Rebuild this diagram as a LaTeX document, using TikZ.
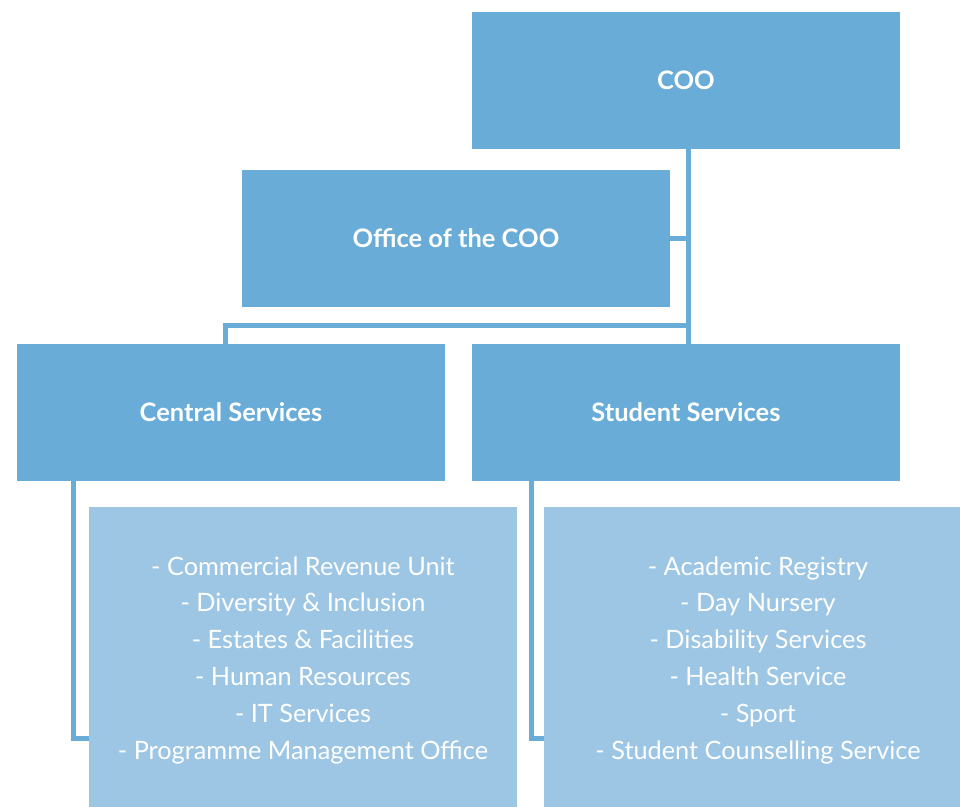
\documentclass[tikz,border=0pt]{standalone}
\usepackage{fontspec}
\setmainfont{Lato}
\usetikzlibrary{positioning, calc}
\definecolor{unitblue}{RGB}{104, 172, 215}
\definecolor{listblue}{RGB}{156, 198, 228}

\begin{document}
\begin{tikzpicture}[x=0.02cm, y=-0.02cm,
    unit/.style={fill=unitblue, text=white, anchor=north west,
                 inner sep=0pt, outer sep=0pt, text depth=0pt,
                 minimum width=8.56cm, minimum height=2.74cm,
                 font=\bfseries\fontsize{14.5}{20}\selectfont},
    sublist/.style={fill=listblue, text=white, anchor=north west,
                 inner sep=0pt, outer sep=0pt, align=center, text depth=0pt,
                 minimum width=8.56cm, minimum height=6.04cm,
                 font=\fontsize{14.4}{21}\selectfont},
    link/.style={draw=unitblue, line width=0.1cm}]
    \clip (0,0) rectangle (960,807);

    % boxes
    \node[unit] (coo) at (472,12) {COO};
    \node[unit] (office) at (242,170) {Office of the COO};
    \node[unit] (central) at (17,344) {Central Services};
    \node[unit] (student) at (472,344) {Student Services};
    \node[sublist] (centrallist) at (89,507)
        {- Commercial Revenue Unit\\- Diversity \& Inclusion\\- Estates \& Facilities\\
         - Human Resources\\- IT Services\\- Programme Management Office};
    \node[sublist] (studentlist) at (544,507)
        {- Academic Registry\\- Day Nursery\\- Disability Services\\
         - Health Service\\- Sport\\- Student Counselling Service};

    % connectors
    \coordinate (split) at (688,325.5);
    \coordinate (cdrop) at (225.5,325.5);
    \coordinate (cbend) at (73,738);
    \coordinate (sbend) at (531.5,738);
    \draw[link] (coo.south -| split) -- (student.north -| split);
    \draw[link] (office.east) -- (office.east -| split);
    \draw[link] (split) -- (cdrop) -- (cdrop |- central.north);
    \draw[link] (central.south -| cbend) -- (cbend) -- (cbend -| centrallist.west);
    \draw[link] (student.south -| sbend) -- (sbend) -- (sbend -| studentlist.west);
\end{tikzpicture}
\end{document}
